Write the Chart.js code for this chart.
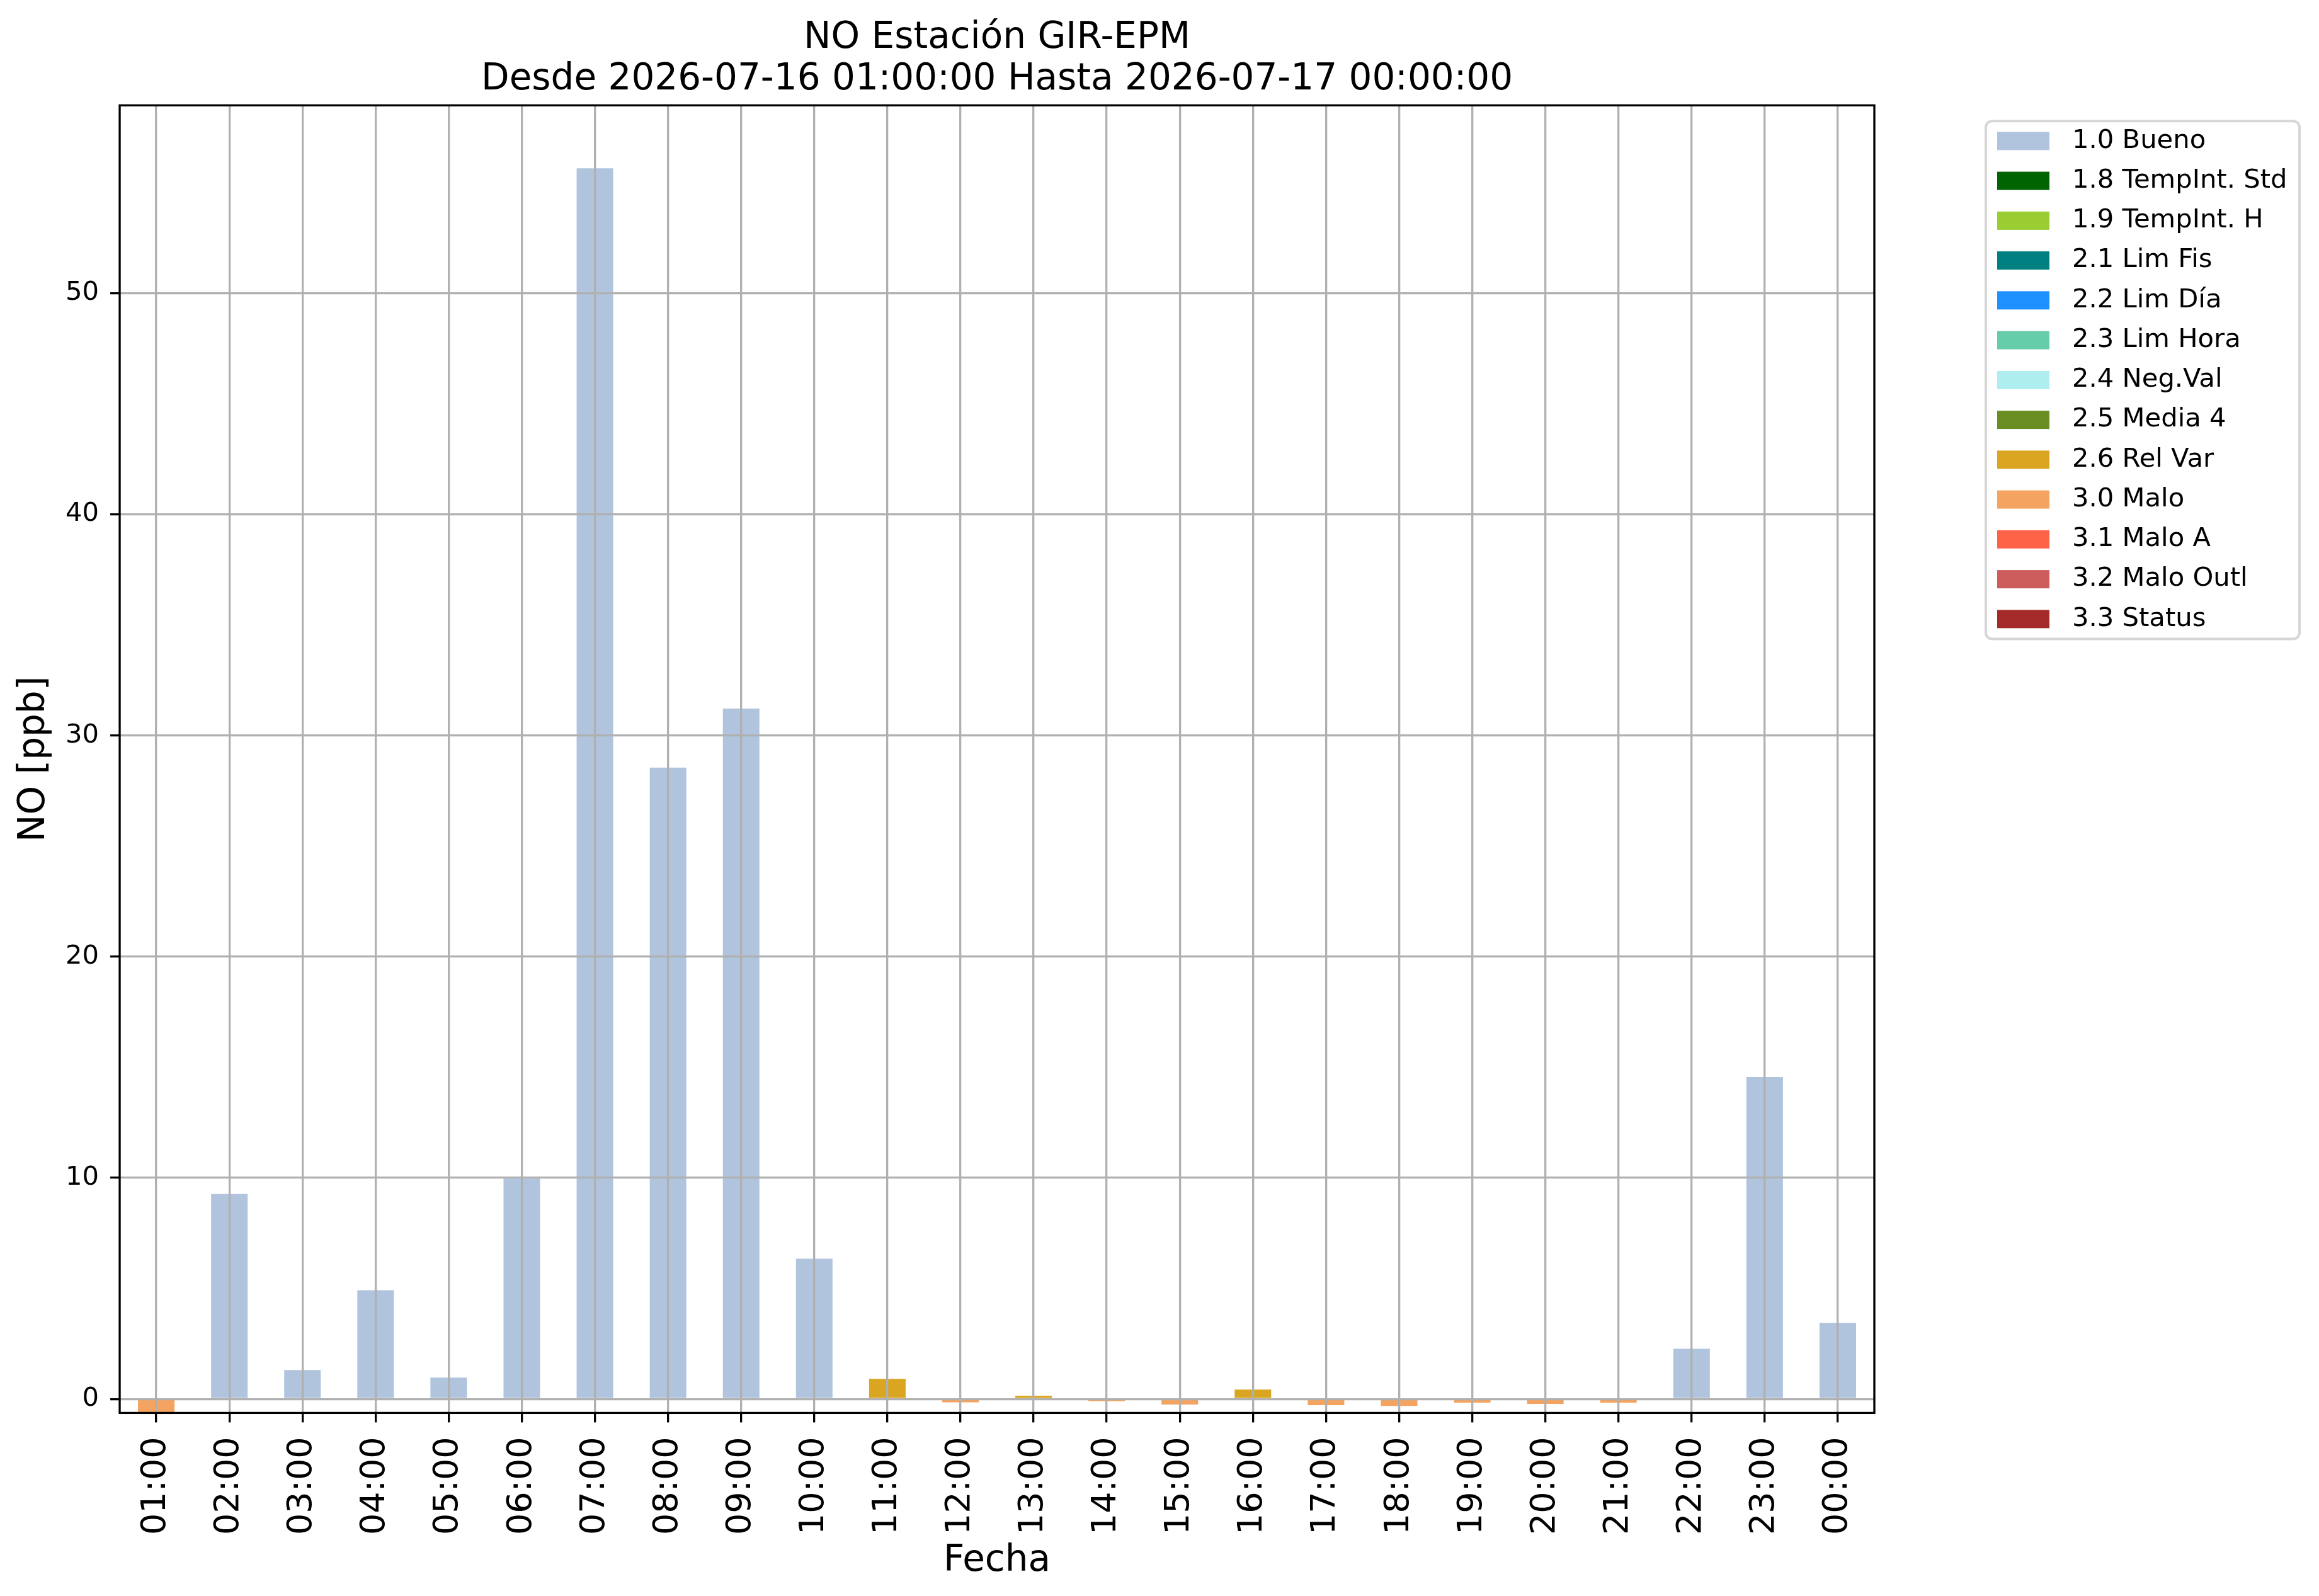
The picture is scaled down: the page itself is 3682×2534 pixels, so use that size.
<!DOCTYPE html>
<html>
<head>
<meta charset="utf-8">
<script src="https://cdn.jsdelivr.net/npm/chart.js@4.4.1/dist/chart.umd.min.js"></script>
<style>
  html, body { margin: 0; padding: 0; background: #fff; }
  #wrap { width: 3682px; height: 2534px; }
</style>
</head>
<body>
<div id="wrap"><canvas id="noChart"></canvas></div>
<script>
var hours = ["01:00", "02:00", "03:00", "04:00", "05:00", "06:00", "07:00", "08:00", "09:00", "10:00", "11:00", "12:00",
             "13:00", "14:00", "15:00", "16:00", "17:00", "18:00", "19:00", "20:00", "21:00", "22:00", "23:00", "00:00"];
var values = [-0.63, 9.27, 1.31, 4.92, 0.97, 9.97, 55.64, 28.55, 31.22, 6.34, 0.91, -0.15,
              0.15, -0.10, -0.25, 0.43, -0.28, -0.31, -0.16, -0.22, -0.16, 2.27, 14.56, 3.44];
var hourFlags = ["3.0", "1.0", "1.0", "1.0", "1.0", "1.0", "1.0", "1.0", "1.0", "1.0", "2.6", "3.0",
                 "2.6", "3.0", "3.0", "2.6", "3.0", "3.0", "3.0", "3.0", "3.0", "1.0", "1.0", "1.0"];
var flagCodes = ["1.0", "1.8", "1.9", "2.1", "2.2", "2.3", "2.4", "2.5", "2.6", "3.0", "3.1", "3.2", "3.3"];
var flagNames = ["Bueno", "TempInt. Std", "TempInt. H", "Lim Fis", "Lim Día", "Lim Hora", "Neg.Val",
                 "Media 4", "Rel Var", "Malo", "Malo A", "Malo Outl", "Status"];
var flagColors = ["#B0C4DE", "#006400", "#9ACD32", "#008080", "#1E90FF", "#66CDAA", "#AFEEEE",
                  "#6B8E23", "#DAA520", "#F4A460", "#FF6347", "#CD5C5C", "#A52A2A"];
var yTicks = [0, 10, 20, 30, 40, 50];
var yMin = -0.63;
var yMax = 58.49;

Chart.defaults.font.family = "'DejaVu Sans', sans-serif";
Chart.defaults.color = '#000';

var datasets = flagCodes.map(function(code, k) {
    return {
        label: code + ' ' + flagNames[k],
        data: values.map(function(v, i) { return hourFlags[i] === code ? v : null; }),
        backgroundColor: flagColors[k],
        borderWidth: 0,
        barPercentage: 0.5,
        categoryPercentage: 1.0
    };
});

// axes frame, all four spines
var frame = {
    id: 'frame',
    afterDraw: function(chart) {
        var a = chart.chartArea, ctx = chart.ctx;
        ctx.save();
        ctx.strokeStyle = '#000';
        ctx.lineWidth = 3.3;
        ctx.strokeRect(a.left, a.top, a.right - a.left, a.bottom - a.top);
        ctx.restore();
    }
};

// matplotlib-like legend box outside the plot
var boxLegend = {
    id: 'boxLegend',
    afterDraw: function(chart) {
        var a = chart.chartArea, ctx = chart.ctx;
        var sets = chart.data.datasets;
        var left = a.right + 177, top = a.top + 25;
        var rowH = 63.25, w = 498, h = sets.length * rowH;
        ctx.save();
        ctx.fillStyle = '#fff';
        ctx.strokeStyle = '#d6d6d6';
        ctx.lineWidth = 4;
        ctx.beginPath();
        ctx.roundRect(left, top, w, h, 10);
        ctx.fill();
        ctx.stroke();
        ctx.font = "41.7px 'DejaVu Sans'";
        ctx.textBaseline = 'middle';
        ctx.textAlign = 'left';
        sets.forEach(function(ds, i) {
            var cy = top + rowH * (i + 0.5);
            ctx.fillStyle = ds.backgroundColor;
            ctx.fillRect(left + 18, cy - 14.5, 83, 29);
            ctx.fillStyle = '#000';
            ctx.fillText(ds.label, left + 137, cy);
        });
        ctx.restore();
    }
};

var ctx = document.getElementById('noChart').getContext('2d');
var chart = new Chart(ctx, {
    type: 'bar',
    data: {
        labels: hours,
        datasets: datasets
    },
    options: {
        responsive: true,
        maintainAspectRatio: false,
        devicePixelRatio: 1,
        animation: false,
        layout: {
            padding: { left: 20, right: 706, top: 0, bottom: 20 }
        },
        plugins: {
            legend: { display: false },
            tooltip: { enabled: false },
            title: {
                display: true,
                text: ['NO Estación GIR-EPM', 'Desde 2026-07-16 01:00:00 Hasta 2026-07-17 00:00:00'],
                font: { size: 58, weight: 'normal', lineHeight: 1.14 },
                color: '#000',
                fullSize: false,
                padding: { top: 28, bottom: 7 }
            }
        },
        scales: {
            x: {
                stacked: true,
                offset: true,
                ticks: {
                    font: { size: 54 },
                    color: '#000',
                    minRotation: 90,
                    maxRotation: 90,
                    autoSkip: false,
                    padding: 23
                },
                grid: {
                    offset: false,
                    color: '#b0b0b0',
                    lineWidth: 3.3,
                    tickColor: '#000',
                    tickLength: 15,
                    tickWidth: 3.3,
                    z: 1
                },
                border: { display: false },
                title: {
                    display: true,
                    text: 'Fecha',
                    font: { size: 58, lineHeight: 1.0 },
                    color: '#000',
                    padding: { top: -10, bottom: 6 }
                }
            },
            y: {
                stacked: true,
                min: yMin,
                max: yMax,
                afterBuildTicks: function(axis) {
                    axis.ticks = yTicks.map(function(v) { return { value: v }; });
                },
                ticks: {
                    font: { size: 41.7 },
                    color: '#000',
                    padding: 18,
                    includeBounds: false
                },
                grid: {
                    color: '#b0b0b0',
                    lineWidth: 3.3,
                    tickColor: '#000',
                    tickLength: 15,
                    tickWidth: 3.3,
                    z: 1
                },
                border: { display: false },
                title: {
                    display: true,
                    text: 'NO [ppb]',
                    font: { size: 58, lineHeight: 1.0 },
                    color: '#000',
                    padding: { top: 6, bottom: 2 }
                }
            }
        }
    },
    plugins: [frame, boxLegend]
});
</script>
</body>
</html>
